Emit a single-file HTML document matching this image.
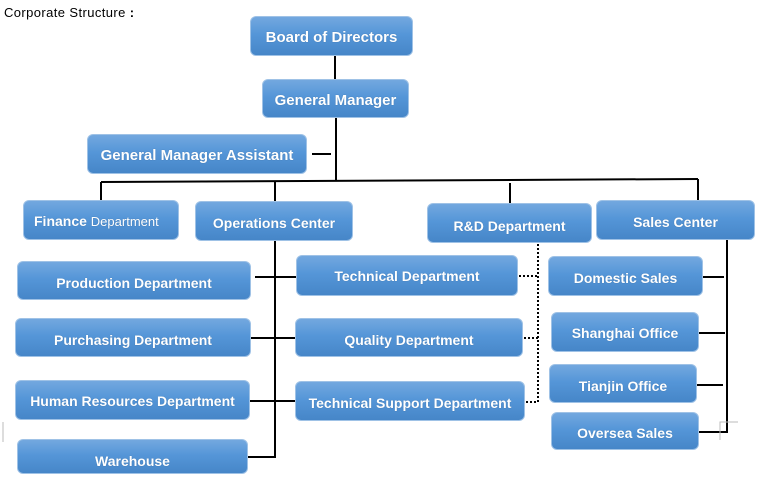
<!DOCTYPE html>
<html><head><meta charset="utf-8"><style>
html,body{margin:0;padding:0;background:#fff;}
body{width:767px;height:488px;position:relative;overflow:hidden;font-family:"Liberation Sans",sans-serif;}
.t{position:absolute;left:4px;top:5px;font-size:13px;color:#000;letter-spacing:0.4px;}
.b{position:absolute;box-sizing:border-box;border:1px solid #9fc2e6;border-radius:6px;
background:linear-gradient(#73a8df,#5596d8 45%,#4686c8);color:#fff;font-weight:bold;font-size:14px;
display:flex;align-items:center;justify-content:center;text-shadow:0 0 1px rgba(0,0,0,.25);white-space:nowrap;}
svg{position:absolute;left:0;top:0;}
</style></head><body>
<div class="t">Corporate Structure <b>:</b></div>
<svg width="767" height="488">
<g stroke="#000" stroke-width="2" fill="none">
<line x1="335" y1="56" x2="335" y2="80"/>
<line x1="336" y1="118" x2="336" y2="181"/>
<line x1="312" y1="154" x2="331" y2="154"/>
<line x1="101" y1="182" x2="698" y2="179"/>
<line x1="101" y1="182" x2="101" y2="201"/>
<line x1="275" y1="182" x2="275" y2="202"/>
<line x1="510" y1="183" x2="510" y2="204"/>
<line x1="698" y1="179" x2="698" y2="201"/>
<line x1="275" y1="241" x2="275" y2="458"/>
<line x1="255" y1="277" x2="296" y2="277"/>
<line x1="251" y1="338" x2="295" y2="338"/>
<line x1="250" y1="401" x2="295" y2="401"/>
<line x1="248" y1="457" x2="276" y2="457"/>
<line x1="727" y1="234" x2="727" y2="433"/>
<line x1="703" y1="277" x2="724" y2="277"/>
<line x1="699" y1="333" x2="725" y2="333"/>
<line x1="697" y1="385" x2="723" y2="385"/>
<line x1="699" y1="432" x2="728" y2="432"/>
</g>
<g stroke="#000" stroke-width="2" stroke-dasharray="2,2" fill="none">
<line x1="538" y1="244" x2="538" y2="402"/>
<line x1="519" y1="276" x2="538" y2="276"/>
<line x1="524" y1="338" x2="538" y2="338"/>
<line x1="526" y1="402" x2="538" y2="402"/>
</g>
<g stroke="#bbb" stroke-width="1" fill="none">
<polyline points="720,440 720,422 738,422"/>
<line x1="3" y1="422" x2="3" y2="442"/>
</g>
</svg>
<div class="b" style="left:250px;top:16px;width:163px;height:40px;font-size:15px;padding-top:3px">Board of Directors</div>
<div class="b" style="left:262px;top:79px;width:147px;height:39px;font-size:15px;padding-top:3px">General Manager</div>
<div class="b" style="left:87px;top:134px;width:220px;height:40px;font-size:15px;padding-top:2px">General Manager Assistant</div>
<div class="b" style="left:23px;top:200px;width:156px;height:40px;justify-content:flex-start;padding-left:10px;padding-top:2px">Finance&nbsp;<span style="font-weight:normal;font-size:13px">Department</span></div>
<div class="b" style="left:195px;top:201px;width:158px;height:40px;padding-top:3px">Operations Center</div>
<div class="b" style="left:427px;top:203px;width:165px;height:40px;padding-top:6px">R&amp;D Department</div>
<div class="b" style="left:596px;top:200px;width:159px;height:40px;padding-top:3px">Sales Center</div>
<div class="b" style="left:17px;top:261px;width:234px;height:39px;padding-top:4px">Production Department</div>
<div class="b" style="left:15px;top:318px;width:236px;height:39px;padding-top:4px">Purchasing Department</div>
<div class="b" style="left:15px;top:380px;width:235px;height:40px;padding-top:2px">Human Resources Department</div>
<div class="b" style="left:17px;top:439px;width:231px;height:35px;padding-top:8px">Warehouse</div>
<div class="b" style="left:296px;top:255px;width:222px;height:41px">Technical Department</div>
<div class="b" style="left:295px;top:318px;width:228px;height:39px;padding-top:4px">Quality Department</div>
<div class="b" style="left:295px;top:381px;width:230px;height:40px;padding-top:4px">Technical Support Department</div>
<div class="b" style="left:548px;top:256px;width:155px;height:40px;padding-top:3px">Domestic Sales</div>
<div class="b" style="left:551px;top:312px;width:148px;height:40px;padding-top:2px">Shanghai Office</div>
<div class="b" style="left:549px;top:364px;width:148px;height:39px;padding-top:4px">Tianjin Office</div>
<div class="b" style="left:551px;top:412px;width:148px;height:38px;padding-top:4px">Oversea Sales</div>
</body></html>
